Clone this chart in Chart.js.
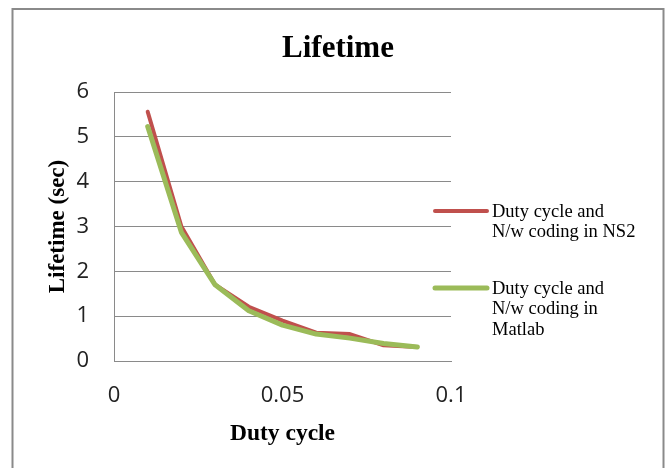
<!DOCTYPE html>
<html><head><meta charset="utf-8">
<script src="https://cdn.jsdelivr.net/npm/chart.js@4.4.1/dist/chart.umd.min.js"></script>
<style>html,body{margin:0;padding:0;background:#fff}#wrap{width:667px;height:468px;position:relative}</style>
</head><body><div id="wrap"><canvas id="c"></canvas></div>
<script>
const chartTitle = 'Lifetime';
const xAxisTitle = 'Duty cycle';
const yAxisTitle = 'Lifetime (sec)';
const dutyCycle = [0.01, 0.02, 0.03, 0.04, 0.05, 0.06, 0.07, 0.08, 0.09];
const ns2Lifetime = [5.56, 3.0, 1.70, 1.21, 0.90, 0.63, 0.60, 0.35, 0.31];
const matlabLifetime = [5.23, 2.87, 1.70, 1.12, 0.80, 0.60, 0.51, 0.39, 0.31];
const seriesLabels = [['Duty cycle and', 'N/w coding in NS2'], ['Duty cycle and', 'N/w coding in', 'Matlab']];
const xTickValues = [0, 0.05, 0.1];
const xTickLabels = ['0', '0.05', '0.1'];
const yTickValues = [0, 1, 2, 3, 4, 5, 6];

const RED = '#C0504D', GREEN = '#9BBB59', GRID = '#8a8a8a';

const toPoints = (ys) => ys.map((y, i) => ({x: dutyCycle[i], y}));

const decor = {
  id: 'decor',
  beforeDraw(chart) {
    const ctx = chart.ctx;
    ctx.save();
    ctx.fillStyle = '#fff';
    ctx.fillRect(0, 0, chart.width, chart.height);
    ctx.restore();
  },
  afterDraw(chart) {
    const ctx = chart.ctx;
    ctx.save();
    ctx.strokeStyle = '#8a8a8a';
    ctx.lineWidth = 2;
    ctx.strokeRect(12.5, 9, 651, 480);
    ctx.fillStyle = '#000';
    ctx.font = 'bold 31px "Liberation Serif"';
    ctx.textAlign = 'center';
    ctx.textBaseline = 'alphabetic';
    ctx.fillText(chartTitle, 338, 57);
    const items = [
      {color: RED, width: 4, y: 211, lines: seriesLabels[0]},
      {color: GREEN, width: 5, y: 288, lines: seriesLabels[1]}
    ];
    ctx.font = '18.5px "Liberation Serif"';
    ctx.textAlign = 'left';
    ctx.textBaseline = 'middle';
    items.forEach(it => {
      ctx.strokeStyle = it.color;
      ctx.lineWidth = it.width;
      ctx.lineCap = 'round';
      ctx.beginPath();
      ctx.moveTo(435, it.y);
      ctx.lineTo(487, it.y);
      ctx.stroke();
      ctx.fillStyle = '#000';
      it.lines.forEach((t, k) => ctx.fillText(t, 492, it.y + 1 + k * 20.5));
    });
    ctx.restore();
  }
};

new Chart(document.getElementById('c'), {
  type: 'line',
  data: {
    datasets: [
      {label: seriesLabels[0].join(' '), data: toPoints(ns2Lifetime), borderColor: RED, backgroundColor: RED,
       borderWidth: 4, pointRadius: 0, tension: 0, order: 1, borderCapStyle: 'round', borderJoinStyle: 'round'},
      {label: seriesLabels[1].join(' '), data: toPoints(matlabLifetime), borderColor: GREEN, backgroundColor: GREEN,
       borderWidth: 5, pointRadius: 0, tension: 0, order: 0, borderCapStyle: 'round', borderJoinStyle: 'round'}
    ]
  },
  options: {
    responsive: true,
    maintainAspectRatio: false,
    animation: false,
    layout: {padding: {left: 0, top: 92, right: 216, bottom: 0}},
    plugins: {legend: {display: false}, title: {display: false}, tooltip: {enabled: false}},
    scales: {
      x: {
        type: 'linear', min: 0, max: 0.1,
        afterFit: (s) => { s.height = 107; },
        afterBuildTicks: (s) => { s.ticks = xTickValues.map(v => ({value: v})); },
        grid: {display: false, drawTicks: false},
        border: {display: true, color: GRID, width: 1},
        ticks: {padding: 22, color: '#222', font: {family: '"Open Sans"', size: 22},
                callback: (v) => { const i = xTickValues.indexOf(v); return i >= 0 ? xTickLabels[i] : ''; },
                maxRotation: 0, autoSkip: false},
        title: {display: true, text: xAxisTitle, color: '#000', padding: {top: 0, bottom: 20},
                font: {family: '"Liberation Serif"', size: 23.5, weight: 'bold'}}
      },
      y: {
        min: 0, max: 6,
        afterFit: (s) => { s.width = 114; },
        afterBuildTicks: (s) => { s.ticks = yTickValues.map(v => ({value: v})); },
        grid: {display: true, color: GRID, lineWidth: 1, drawTicks: false},
        border: {display: true, color: GRID, width: 1},
        ticks: {padding: 25, color: '#222', font: {family: '"Open Sans"', size: 22, lineHeight: 1.05}},
        title: {display: true, text: yAxisTitle, color: '#000', padding: {top: 44, bottom: 0},
                font: {family: '"Liberation Serif"', size: 23, weight: 'bold'}}
      }
    }
  },
  plugins: [decor]
});
</script>
</body></html>
